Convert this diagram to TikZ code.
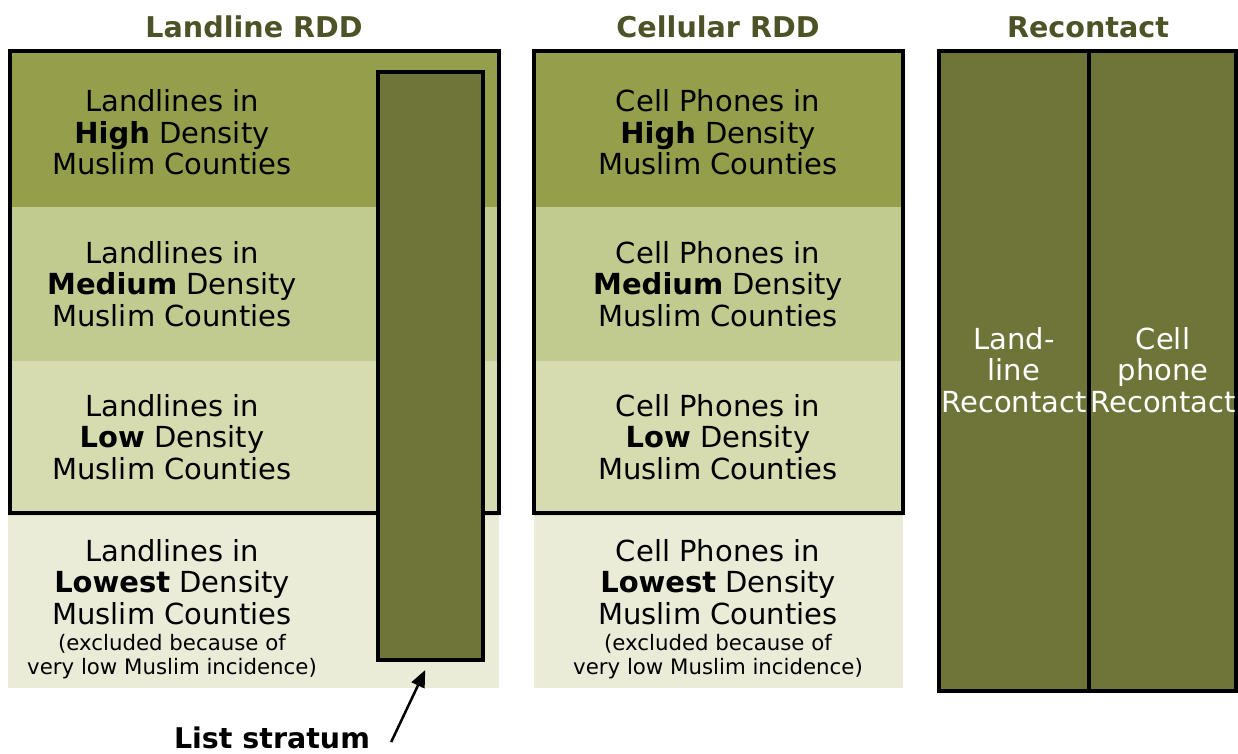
\documentclass[tikz,border=0pt]{standalone}
\usepackage{fontspec}
\setmainfont{DejaVu Sans}
\usetikzlibrary{arrows.meta,calc}
\definecolor{bandA}{RGB}{149,158,74}
\definecolor{bandB}{RGB}{193,202,143}
\definecolor{bandC}{RGB}{214,219,176}
\definecolor{bandD}{RGB}{234,236,216}
\definecolor{oliveD}{RGB}{111,117,57}
\definecolor{titlec}{RGB}{77,83,38}
\begin{document}
\begin{tikzpicture}[x=1pt,y=-1pt,
  lbl/.style={align=center,font=\fontsize{29}{31.5}\selectfont,inner sep=0},
  small/.style={align=center,font=\fontsize{21.3}{24}\selectfont,inner sep=0},
  ttl/.style={font=\fontsize{28.6}{30}\selectfont\bfseries,text=titlec,inner sep=0},
  frame/.style={draw=black,line width=4pt},
  darkbox/.style={draw=black,line width=4pt,fill=oliveD,inner sep=0}]
\useasboundingbox (0,0) rectangle (1238,753);
\fill[white] (0,0) rectangle (1238,753);
% titles
\node[ttl] (t1) at (254,27) {Landline RDD};
\node[ttl] (t2) at (718,27) {Cellular RDD};
\node[ttl] (t3) at (1088,27) {Recontact};
% landline bands
\fill[bandA] (8,50) rectangle (499,207);
\fill[bandB] (8,207) rectangle (499,361);
\fill[bandC] (8,361) rectangle (499,516);
\fill[bandD] (8,516) rectangle (499,688);
\draw[frame] (9.5,51) rectangle (499,513);
% cellular bands
\fill[bandA] (534,50) rectangle (903,207);
\fill[bandB] (534,207) rectangle (903,361);
\fill[bandC] (534,361) rectangle (903,516);
\fill[bandD] (534,516) rectangle (903,688);
\draw[frame] (534,51) rectangle (903,513);
% list stratum
\node[darkbox,minimum width=105.5pt,minimum height=588pt] (stratum) at (430.25,366) {};
% landline texts
\node[lbl] (l1) at (172,132.5) {Landlines in\\\textbf{High} Density\\Muslim Counties};
\node[lbl] (l2) at (172,284) {Landlines in\\\textbf{Medium} Density\\Muslim Counties};
\node[lbl] (l3) at (172,437) {Landlines in\\\textbf{Low} Density\\Muslim Counties};
\node[lbl] (l4) at (172,582) {Landlines in\\\textbf{Lowest} Density\\Muslim Counties};
\node[small] (l4s) at (172,657) {(excluded because of\\very low Muslim incidence)};
% cellular texts
\node[lbl] (c1) at (718,132.5) {Cell Phones in\\\textbf{High} Density\\Muslim Counties};
\node[lbl] (c2) at (718,284) {Cell Phones in\\\textbf{Medium} Density\\Muslim Counties};
\node[lbl] (c3) at (718,437) {Cell Phones in\\\textbf{Low} Density\\Muslim Counties};
\node[lbl] (c4) at (718,582) {Cell Phones in\\\textbf{Lowest} Density\\Muslim Counties};
\node[small] (c4s) at (718,657) {(excluded because of\\very low Muslim incidence)};
% recontact
\node[darkbox,minimum width=150pt,minimum height=640pt] (rl) at (1014,371) {};
\node[darkbox,minimum width=147pt,minimum height=640pt] (rc) at (1162.5,371) {};
\node[lbl,text=white] (rlt) at (1014,370) {Land-\\line\\Recontact};
\node[lbl,text=white] (rct) at (1163,370) {Cell\\phone\\Recontact};
% list stratum label
\node[font=\fontsize{28.5}{30}\selectfont\bfseries,inner sep=0] (lst) at (272,738) {List stratum};
\draw[line width=2.5pt,-{Triangle[length=17pt,width=14pt]}] ($(lst.east)+(21,4)$) -- ($(stratum.south)+(-5,8)$);
\end{tikzpicture}
\end{document}
